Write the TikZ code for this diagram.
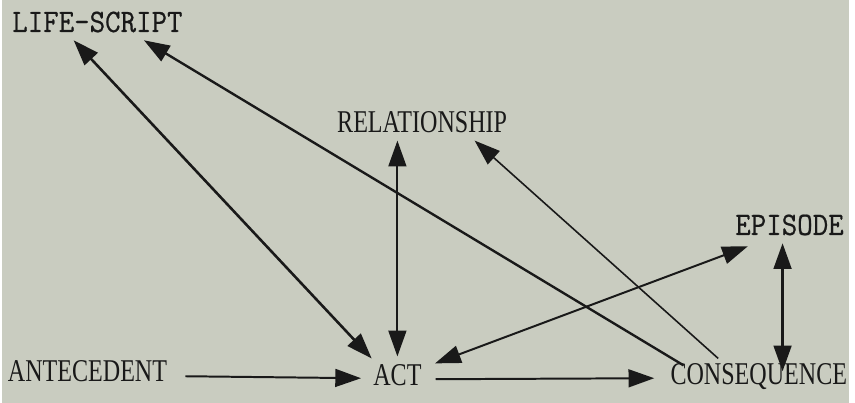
\documentclass[tikz,border=0pt]{standalone}
\usepackage{fontspec}
\setmainfont{Liberation Serif}
\newfontfamily\termfont[FakeStretch=0.76]{Liberation Serif}
\newfontfamily\typedfont[FakeStretch=0.92, FakeBold=0.6]{Latin Modern Mono}
\usepackage{tikz}
\usetikzlibrary{arrows.meta, positioning, calc}
\definecolor{paper}{RGB}{201,204,192}
\definecolor{ink}{RGB}{25,25,25}

\begin{document}
\begin{tikzpicture}[
    x=0.5pt, y=-0.5pt,
    term/.style={inner sep=4pt, text depth=0pt, text=ink, font=\termfont\fontsize{16}{18}\selectfont},
    typed/.style={term, font=\typedfont\fontsize{16.5}{19}\selectfont},
    arrow/.style={-{Triangle[length=13pt, width=9pt]}, line width=1pt, draw=ink},
    both/.style={arrow, {Triangle[length=13pt, width=9pt]}-{Triangle[length=13pt, width=9pt]}},
]
    \fill[paper] (0,0) rectangle (855,407);

    \node[typed] (lifescript) at (96,22) {LIFE-SCRIPT};
    \node[term] (relationship) at (424,123) {RELATIONSHIP};
    \node[typed] (episode) at (795,227) {EPISODE};
    \node[term] (antecedent) at (86,375) {ANTECEDENT};
    \node[term] (act) at (399,379) {ACT};
    \node[term] (consequence) at (764,378) {CONSEQUENCE};

    % sequence along the bottom
    \draw[arrow] ([shift={(10,5)}]antecedent.east) -- ([shift={(-4,3)}]act.west);
    \draw[arrow] ([shift={(6,4)}]act.east) -- ([shift={(-8,4)}]consequence.west);

    % links upwards
    \draw[both, line width=1.3pt] ([shift={(-24,0)}]lifescript.south) -- ([shift={(-26,2)}]act.north);
    \draw[arrow, line width=1.2pt] ([shift={(-76,10)}]consequence.north) -- ([shift={(47,0)}]lifescript.south);
    \draw[both] (act.north) -- (act.north |- relationship.south);
    \draw[arrow, line width=0.8pt] ([shift={(-41,3)}]consequence.north) -- ([shift={(53,0)}]relationship.south);
    \draw[both] ([shift={(38,7)}]act.north) -- ([shift={(-42,3)}]episode.south);
    \draw[both, line width=1.2pt] ([shift={(-7,0)}]episode.south) -- ([shift={(24,-3)}]consequence.center);
\end{tikzpicture}
\end{document}
